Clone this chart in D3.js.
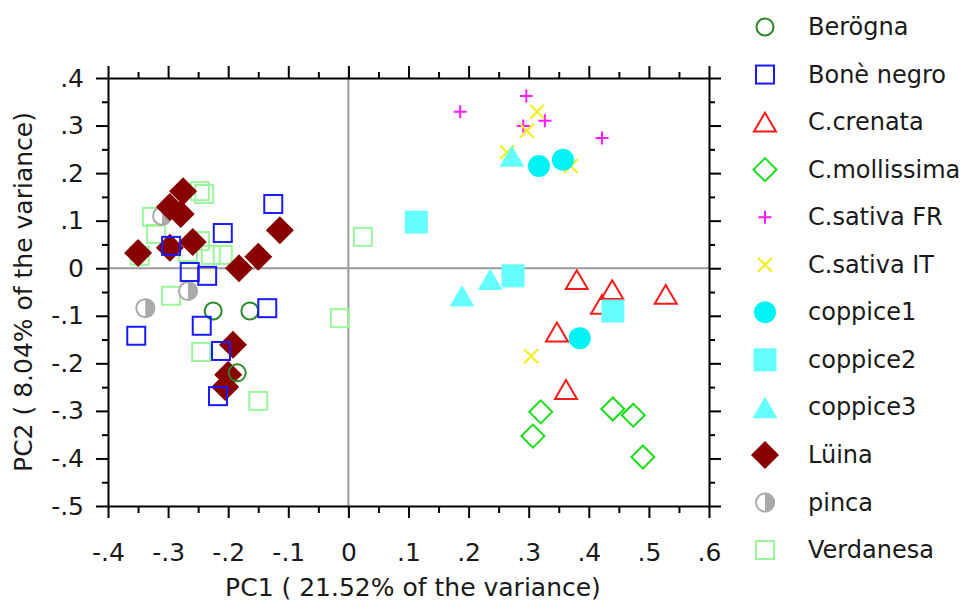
<!DOCTYPE html>
<html><head><meta charset="utf-8">
<script src="https://cdn.jsdelivr.net/npm/d3@7"></script>
<style>body{margin:0;background:#fff} svg{display:block}</style>
</head><body><svg id="chart" width="972" height="607"></svg>
<script>
// ---------- data ----------
const seriesNames = ["Berögna","Bonè negro","C.crenata","C.mollissima","C.sativa FR","C.sativa IT","coppice1","coppice2","coppice3","Lüina","pinca","Verdanesa"];

const xTicks = [-0.4,-0.3,-0.2,-0.1,0,0.1,0.2,0.3,0.4,0.5,0.6];
const xTickLabels = ["-.4","-.3","-.2","-.1","0",".1",".2",".3",".4",".5",".6"];
const xMinorTicks = [-0.35,-0.25,-0.15,-0.05,0.05,0.15,0.25,0.35,0.45,0.55];
const yTicks = [-0.5,-0.4,-0.3,-0.2,-0.1,0,0.1,0.2,0.3,0.4];
const yTickLabels = ["-.5","-.4","-.3","-.2","-.1","0",".1",".2",".3",".4"];
const yMinorTicks = [-0.45,-0.35,-0.25,-0.15,-0.05,0.05,0.15,0.25,0.35];

const xTitle = "PC1 ( 21.52% of the variance)";
const yTitle = "PC2 ( 8.04% of the variance)";

const berognaPC1 = [-0.225,-0.164,-0.185];
const berognaPC2 = [-0.090,-0.090,-0.220];
const boneNegroPC1 = [-0.125,-0.209,-0.295,-0.264,-0.235,-0.135,-0.244,-0.353,-0.212,-0.217];
const boneNegroPC2 = [0.135,0.074,0.047,-0.008,-0.016,-0.084,-0.121,-0.142,-0.174,-0.269];
const crenataPC1 = [0.380,0.439,0.528,0.422,0.347,0.362];
const crenataPC2 = [-0.024,-0.045,-0.055,-0.076,-0.134,-0.255];
const mollissimaPC1 = [0.320,0.307,0.440,0.474,0.490];
const mollissimaPC2 = [-0.302,-0.353,-0.296,-0.309,-0.397];
const sativaFRPC1 = [0.296,0.186,0.327,0.291,0.422];
const sativaFRPC2 = [0.362,0.329,0.310,0.299,0.274];
const sativaITPC1 = [0.314,0.297,0.264,0.370,0.304];
const sativaITPC2 = [0.329,0.289,0.244,0.215,-0.185];
const coppice1PC1 = [0.317,0.357,0.385];
const coppice1PC2 = [0.215,0.228,-0.147];
const coppice2PC1 = [0.113,0.274,0.440];
const coppice2PC2 = [0.097,-0.016,-0.090];
const coppice3PC1 = [0.272,0.236,0.189];
const coppice3PC2 = [0.236,-0.023,-0.058];
const luinaPC1 = [-0.275,-0.297,-0.279,-0.350,-0.297,-0.259,-0.114,-0.150,-0.182,-0.192,-0.200,-0.205];
const luinaPC2 = [0.162,0.129,0.114,0.032,0.043,0.055,0.080,0.024,0.000,-0.161,-0.224,-0.250];
const pincaPC1 = [-0.310,-0.267,-0.338];
const pincaPC2 = [0.110,-0.048,-0.084];
const verdanesaPC1 = [-0.327,-0.320,-0.347,-0.267,-0.247,-0.229,-0.209,-0.247,-0.240,-0.295,-0.245,-0.150,0.024,-0.014];
const verdanesaPC2 = [0.108,0.072,0.026,0.034,0.057,0.028,0.028,0.162,0.156,-0.058,-0.176,-0.279,0.066,-0.105];

const seriesPC1 = [berognaPC1,boneNegroPC1,crenataPC1,mollissimaPC1,sativaFRPC1,sativaITPC1,coppice1PC1,coppice2PC1,coppice3PC1,luinaPC1,pincaPC1,verdanesaPC1];
const seriesPC2 = [berognaPC2,boneNegroPC2,crenataPC2,mollissimaPC2,sativaFRPC2,sativaITPC2,coppice1PC2,coppice2PC2,coppice3PC2,luinaPC2,pincaPC2,verdanesaPC2];

// ---------- styles ----------
const styles = {
  "Berögna":     {shape:"circle",  color:"#2a8a2a", fill:false, size:8.5},
  "Bonè negro":  {shape:"square",  color:"#1a1aff", fill:false, size:18},
  "C.crenata":   {shape:"triangle",color:"#ff1a1a", fill:false, size:22},
  "C.mollissima":{shape:"diamond", color:"#1adf1a", fill:false, size:11.5},
  "C.sativa FR": {shape:"plus",    color:"#ff1aff", fill:false, size:6.5},
  "C.sativa IT": {shape:"cross",   color:"#f2ef1a", fill:false, size:7},
  "coppice1":    {shape:"circle",  color:"#00f4f4", fill:true,  size:11},
  "coppice2":    {shape:"square",  color:"#66ffff", fill:true,  size:23},
  "coppice3":    {shape:"triangle",color:"#66ffff", fill:true,  size:25},
  "Lüina":       {shape:"diamond", color:"#880000", fill:true,  size:14},
  "pinca":       {shape:"half",    color:"#aaaaaa", fill:true,  size:10},
  "Verdanesa":   {shape:"square",  color:"#9cf79c", fill:false, size:18}
};
const drawOrder = ["Verdanesa","pinca","Lüina","Berögna","Bonè negro","C.sativa FR","C.sativa IT","C.crenata","C.mollissima","coppice3","coppice2","coppice1"];

// ---------- chart ----------
const svg = d3.select("#chart");
svg.append("rect").attr("width",972).attr("height",607).attr("fill","#fff");
const FONT = "'DejaVu Sans', Verdana, sans-serif";

const x = d3.scaleLinear().domain([-0.4,0.6]).range([108,709]);
const y = d3.scaleLinear().domain([-0.5,0.4]).range([506,78]);

// zero lines
svg.append("line").attr("x1",x(-0.4)).attr("x2",x(0.6)).attr("y1",y(0)).attr("y2",y(0))
  .attr("stroke","#9a9a9a").attr("stroke-width",2);
svg.append("line").attr("x1",x(0)).attr("x2",x(0)).attr("y1",y(0.4)).attr("y2",y(-0.5))
  .attr("stroke","#9a9a9a").attr("stroke-width",2);

function styleAxis(g, labels){
  g.attr("font-family",FONT).attr("font-size",25);
  g.selectAll("path.domain").attr("stroke","#000").attr("stroke-width",2);
  g.selectAll(".tick line").attr("stroke","#000").attr("stroke-width",2);
  g.selectAll(".tick text").attr("fill","#1a1a1a");
  if(!labels) g.selectAll(".tick text").remove();
}
function minor(g){ g.select("path.domain").remove(); styleAxis(g,false); }

// bottom
styleAxis(svg.append("g").attr("transform",`translate(0,${y(-0.5)})`)
  .call(d3.axisBottom(x).tickValues(xTicks).tickFormat((d,i)=>xTickLabels[i]).tickSize(12).tickSizeOuter(0).tickPadding(25)), true);
minor(svg.append("g").attr("transform",`translate(0,${y(-0.5)})`)
  .call(d3.axisBottom(x).tickValues(xMinorTicks).tickFormat("").tickSize(7)));
// top
styleAxis(svg.append("g").attr("transform",`translate(0,${y(0.4)})`)
  .call(d3.axisTop(x).tickValues(xTicks).tickFormat("").tickSize(12).tickSizeOuter(0)), false);
minor(svg.append("g").attr("transform",`translate(0,${y(0.4)})`)
  .call(d3.axisTop(x).tickValues(xMinorTicks).tickFormat("").tickSize(6)));
// left
styleAxis(svg.append("g").attr("transform",`translate(${x(-0.4)},0)`)
  .call(d3.axisLeft(y).tickValues(yTicks).tickFormat((d,i)=>yTickLabels[i]).tickSize(12).tickSizeOuter(0).tickPadding(12)), true);
minor(svg.append("g").attr("transform",`translate(${x(-0.4)},0)`)
  .call(d3.axisLeft(y).tickValues(yMinorTicks).tickFormat("").tickSize(6)));
// right
styleAxis(svg.append("g").attr("transform",`translate(${x(0.6)},0)`)
  .call(d3.axisRight(y).tickValues(yTicks).tickFormat("").tickSize(12).tickSizeOuter(0)), false);
minor(svg.append("g").attr("transform",`translate(${x(0.6)},0)`)
  .call(d3.axisRight(y).tickValues(yMinorTicks).tickFormat("").tickSize(6)));

// titles
svg.append("text").attr("x",413).attr("y",596).attr("text-anchor","middle")
  .attr("font-family",FONT).attr("font-size",25).attr("fill","#1a1a1a").text(xTitle);
svg.append("text").attr("transform","translate(23,292) rotate(-90)").attr("text-anchor","middle")
  .attr("dominant-baseline","central")
  .attr("font-family",FONT).attr("font-size",25).attr("fill","#1a1a1a").text(yTitle);

// marker drawing
function drawMarker(g, st){
  const s = st.size, c = st.color, sw = 2;
  switch(st.shape){
    case "circle":
      g.append("circle").attr("r",s).attr("fill",st.fill?c:"none").attr("stroke",c).attr("stroke-width",st.fill?0:sw);
      break;
    case "square":
      g.append("rect").attr("x",-s/2).attr("y",-s/2).attr("width",s).attr("height",s)
        .attr("fill",st.fill?c:"none").attr("stroke",st.fill?"none":c).attr("stroke-width",sw);
      break;
    case "triangle": {
      const w = s, h = s*0.86;
      g.append("path").attr("d",`M0,${-h/2}L${w/2},${h/2}L${-w/2},${h/2}Z`)
        .attr("fill",st.fill?c:"none").attr("stroke",st.fill?"none":c).attr("stroke-width",sw).attr("stroke-linejoin","miter");
      break; }
    case "diamond":
      g.append("path").attr("d",`M0,${-s}L${s},0L0,${s}L${-s},0Z`)
        .attr("fill",st.fill?c:"none").attr("stroke",st.fill?"none":c).attr("stroke-width",sw);
      break;
    case "plus":
      g.append("path").attr("d",`M${-s},0H${s}M0,${-s}V${s}`).attr("stroke",c).attr("stroke-width",sw).attr("fill","none");
      break;
    case "cross":
      g.append("path").attr("d",`M${-s},${-s}L${s},${s}M${-s},${s}L${s},${-s}`).attr("stroke",c).attr("stroke-width",sw).attr("fill","none");
      break;
    case "half":
      g.append("circle").attr("r",s-1).attr("fill","#fff").attr("stroke",c).attr("stroke-width",2);
      g.append("path").attr("d",`M0,${-s}A${s},${s} 0 0 1 0,${s}Z`).attr("fill",c);
      break;
  }
}

const plot = svg.append("g");
drawOrder.forEach(name=>{
  const i = seriesNames.indexOf(name);
  const pts = seriesPC1[i].map((v,j)=>[v, seriesPC2[i][j]]);
  plot.selectAll(null).data(pts).enter().append("g")
    .attr("transform",d=>`translate(${x(d[0])},${y(d[1])})`)
    .each(function(){ drawMarker(d3.select(this), styles[name]); });
});

// legend
const legend = svg.append("g");
seriesNames.forEach((name,i)=>{
  const g = legend.append("g").attr("transform",`translate(765,${27+i*47.55})`);
  drawMarker(g.append("g"), styles[name]);
  g.append("text").attr("x",43).attr("y",0).attr("dominant-baseline","central")
    .attr("font-family",FONT).attr("font-size",24).attr("fill","#1a1a1a").text(name);
});
</script></body></html>
